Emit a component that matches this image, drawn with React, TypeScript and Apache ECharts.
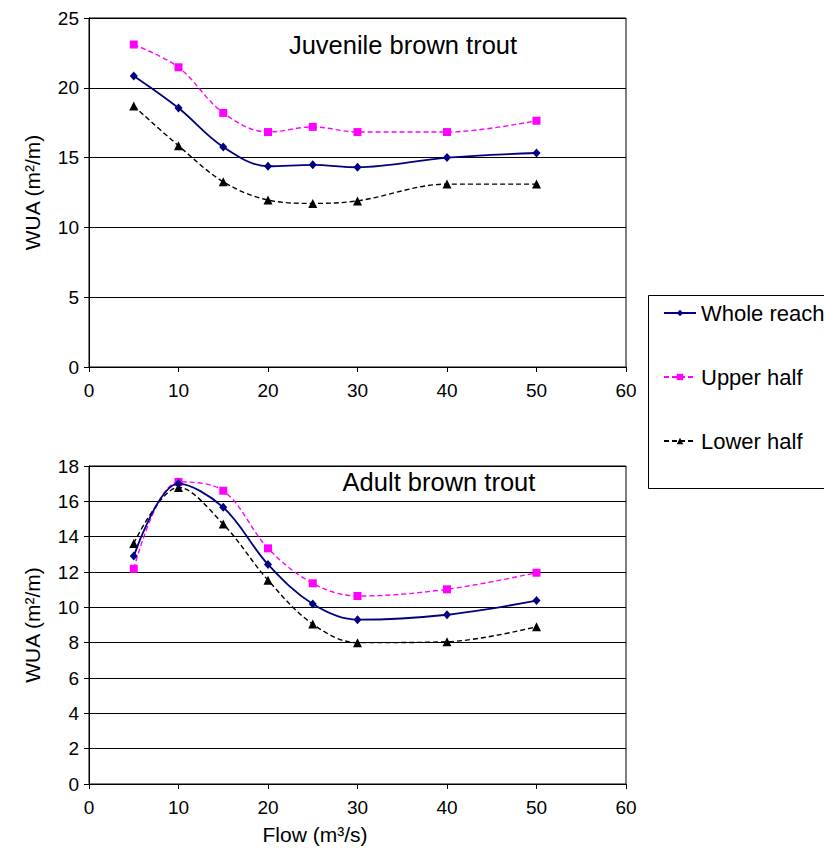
import React, { useEffect, useRef } from "react";
import * as echarts from "echarts";

const flows = [5, 10, 15, 20, 25, 30, 40, 50];
const xTicks = [0, 10, 20, 30, 40, 50, 60];

const juvWhole = [20.85, 18.55, 15.76, 14.38, 14.48, 14.31, 15.0, 15.33];
const juvUpper = [23.1, 21.47, 18.2, 16.83, 17.2, 16.83, 16.83, 17.64];
const juvLower = [18.7, 15.85, 13.27, 11.96, 11.72, 11.9, 13.1, 13.1];

const adWhole = [12.9, 17.0, 15.66, 12.43, 10.19, 9.3, 9.58, 10.38];
const adUpper = [12.18, 17.1, 16.6, 13.34, 11.36, 10.64, 11.02, 11.96];
const adLower = [13.62, 16.79, 14.71, 11.54, 9.05, 8.0, 8.05, 8.9];

const seriesNames = ["Whole reach", "Upper half", "Lower half"];
const titles = ["Juvenile brown trout", "Adult brown trout"];
const yAxisTitle = "WUA (m²/m)";
const xAxisTitle = "Flow (m³/s)";

const pair = (ys: number[]) => flows.map((x, i) => [x, ys[i]]);

const FONT = "Liberation Sans, Arial, sans-serif";

export default function App() {
  const ref = useRef<HTMLDivElement>(null);
  useEffect(() => {
    if (!ref.current) return;
    const chart = echarts.init(ref.current, undefined, { renderer: "svg" });

    const styles = [
      { color: "#000080", type: "solid", width: 1.8, symbol: "diamond", size: [8, 9] },
      { color: "#ff00ff", type: [5, 3], width: 1.4, symbol: "rect", size: 8 },
      { color: "#000000", type: [5, 3], width: 1.4, symbol: "triangle", size: 9 },
    ];

    const mkSeries = (name: string, data: number[], idx: number, k: number) => {
      const s = styles[k];
      return {
        type: "line",
        name,
        xAxisIndex: idx,
        yAxisIndex: idx,
        data: pair(data),
        smooth: 0.35,
        symbol: s.symbol,
        symbolSize: s.size,
        showSymbol: true,
        lineStyle: { color: s.color, type: s.type, width: s.width },
        itemStyle: { color: s.color },
        z: 5 - k,
      };
    };

    const xAxisBase = (gi: number) => ({
      type: "value",
      gridIndex: gi,
      min: xTicks[0],
      max: xTicks[xTicks.length - 1],
      interval: 10,
      axisLine: { show: true, onZero: false, lineStyle: { color: "#000", width: 1 } },
      axisTick: { show: true, length: 5, lineStyle: { color: "#000" } },
      axisLabel: { color: "#000", fontSize: 19, fontFamily: FONT, margin: 14 },
      splitLine: { show: false },
    });

    const yAxisBase = (gi: number, max: number, interval: number) => ({
      type: "value",
      gridIndex: gi,
      min: 0,
      max,
      interval,
      name: yAxisTitle,
      nameLocation: "middle",
      nameGap: 46,
      nameTextStyle: { color: "#000", fontSize: 21, fontFamily: FONT },
      axisLine: { show: true, lineStyle: { color: "#000", width: 1 } },
      axisTick: { show: true, length: 5, lineStyle: { color: "#000" } },
      axisLabel: { color: "#000", fontSize: 19, fontFamily: FONT, margin: 10 },
      splitLine: { show: true, lineStyle: { color: "#000", width: 1 } },
    });

    const titleStyle = { color: "#000", fontSize: 25.5, fontWeight: "normal", fontFamily: FONT };

    const option = {
      animation: false,
      backgroundColor: "#fff",
      title: [
        { text: titles[0], left: 398, top: 27, textAlign: "center", textStyle: titleStyle },
        { text: titles[1], left: 434, top: 464, textAlign: "center", textStyle: titleStyle },
      ],
      grid: [
        { left: 89, top: 18, width: 537, height: 349, show: true, borderColor: "#000", borderWidth: 1, backgroundColor: "transparent" },
        { left: 89, top: 466, width: 537, height: 318, show: true, borderColor: "#000", borderWidth: 1, backgroundColor: "transparent" },
      ],
      xAxis: [
        xAxisBase(0),
        {
          ...xAxisBase(1),
          name: xAxisTitle,
          nameLocation: "middle",
          nameGap: 40,
          nameTextStyle: { color: "#000", fontSize: 21, fontFamily: FONT, padding: [0, 85, 0, 0] },
        },
      ],
      yAxis: [yAxisBase(0, 25, 5), yAxisBase(1, 18, 2)],
      legend: {
        orient: "vertical",
        left: 658,
        top: 297,
        itemWidth: 32,
        itemHeight: 8,
        itemGap: 42,
        data: seriesNames,
        textStyle: { color: "#000", fontSize: 22, fontFamily: FONT, lineHeight: 22 },
      },
      graphic: [
        {
          type: "rect",
          z: -1,
          shape: { x: 648.5, y: 295.5, width: 220, height: 193 },
          style: { fill: "#fff", stroke: "#000", lineWidth: 1 },
        },
      ],
      series: [
        mkSeries(seriesNames[0], juvWhole, 0, 0),
        mkSeries(seriesNames[1], juvUpper, 0, 1),
        mkSeries(seriesNames[2], juvLower, 0, 2),
        mkSeries(seriesNames[0], adWhole, 1, 0),
        mkSeries(seriesNames[1], adUpper, 1, 1),
        mkSeries(seriesNames[2], adLower, 1, 2),
      ],
    };

    chart.setOption(option as any);
    return () => chart.dispose();
  }, []);

  return (
    <div
      ref={ref}
      style={{ position: "absolute", left: 0, top: 0, width: 824, height: 852 }}
    />
  );
}
